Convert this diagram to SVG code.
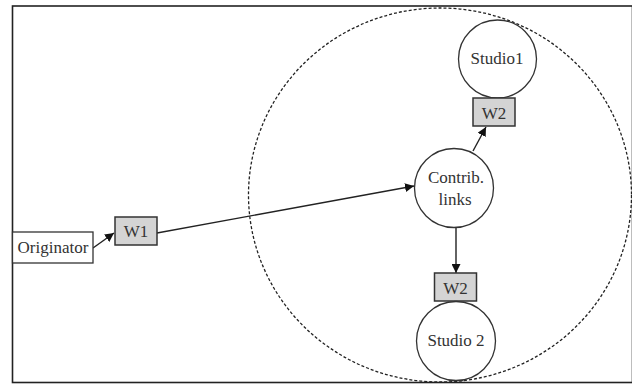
<svg xmlns="http://www.w3.org/2000/svg" width="632" height="385" viewBox="0 0 632 385">
  <style>
    .frame { fill: #fff; stroke: #222; stroke-width: 1.6; }
    .zone { fill: none; stroke: #222; stroke-width: 1.3; stroke-dasharray: 3 2; }
    .node { fill: #fff; stroke: #333; stroke-width: 1.3; }
    .weight { fill: #d4d4d4; stroke: #333; stroke-width: 1.5; }
    .label { font-family: "Liberation Serif", "Times New Roman", serif; font-size: 17px; fill: #333; text-anchor: middle; }
    .link { stroke: #222; stroke-width: 1.4; fill: none; marker-end: url(#arrow); }
  </style>
  <defs>
    <marker id="arrow" viewBox="0 0 10 10" refX="10" refY="5" markerWidth="9" markerHeight="9" markerUnits="userSpaceOnUse" orient="auto">
      <path d="M0,0 L10,5 L0,10 z" fill="#111"/>
    </marker>
  </defs>

  <rect class="frame" x="12.5" y="6" width="620" height="376.5"/>

  <!-- coverage zone -->
  <ellipse class="zone" cx="440" cy="195" rx="191.5" ry="187"/>

  <g id="connectors">
    <line class="link" x1="93" y1="248" x2="114" y2="233"/>
    <line class="link" x1="157" y1="233" x2="414" y2="186"/>
    <line class="link" x1="473" y1="151" x2="486" y2="127"/>
    <line class="link" x1="456" y1="228" x2="456" y2="273"/>
  </g>

  <g id="originator">
    <rect class="node" x="12.5" y="232" width="80.5" height="31"/>
    <text class="label" x="53" y="253">Originator</text>
  </g>

  <g id="w1">
    <rect class="weight" x="115" y="217" width="42" height="28"/>
    <text class="label" x="136" y="237">W1</text>
  </g>

  <g id="contrib">
    <circle class="node" cx="454" cy="188" r="39.5"/>
    <text class="label" x="456" y="183">Contrib.</text>
    <text class="label" x="455" y="205">links</text>
  </g>

  <g id="studio1">
    <circle class="node" cx="497.5" cy="59" r="39"/>
    <text class="label" x="497" y="64">Studio1</text>
  </g>

  <g id="w2-top">
    <rect class="weight" x="473" y="98" width="42" height="28"/>
    <text class="label" x="494" y="119">W2</text>
  </g>

  <g id="w2-bottom">
    <rect class="weight" x="434.5" y="273" width="42" height="28"/>
    <text class="label" x="455.5" y="294">W2</text>
  </g>

  <g id="studio2">
    <circle class="node" cx="456" cy="341" r="39.5"/>
    <text class="label" x="456" y="346">Studio 2</text>
  </g>
</svg>
